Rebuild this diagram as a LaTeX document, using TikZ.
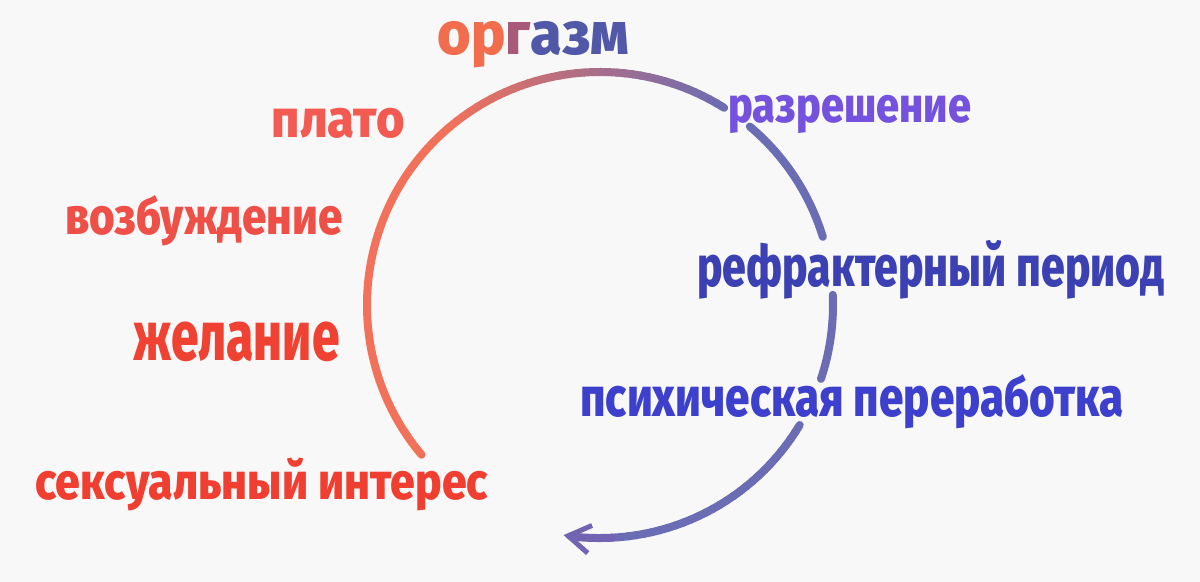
\documentclass[tikz,border=0pt]{standalone}
\usepackage{fontspec}
\usepackage{xcolor}
\usepackage{tikz}
\usetikzlibrary{arrows.meta}
\setmainfont{Fira Sans}[BoldFont={Fira Sans ExtraBold}]
\definecolor{paper}{HTML}{F8F8F8}
\definecolor{hot}{HTML}{F2715A}
\definecolor{cool}{HTML}{6A6CB4}
\definecolor{deep}{HTML}{5A5EC0}
\definecolor{tip}{HTML}{8868A8}
\definecolor{red1}{HTML}{F03E30}
\definecolor{red2}{HTML}{F04232}
\definecolor{red3}{HTML}{EE5048}
\definecolor{red4}{HTML}{F25A52}
\definecolor{orgA}{HTML}{F26D4E}
\definecolor{orgB}{HTML}{A85A7A}
\definecolor{orgC}{HTML}{5158A8}
\definecolor{violet}{HTML}{7552DE}
\definecolor{navy}{HTML}{3B40B2}
\definecolor{indigo}{HTML}{3C40CC}

\begin{document}
\begin{tikzpicture}[x=0.5pt, y=0.5pt,
    arcline/.style={line width=4pt, line cap=round},
    lbl/.style 2 args={inner sep=0pt,
      font=\fontsize{#1}{#1}\selectfont\bfseries\addfontfeatures{FakeStretch=#2}}]
  \useasboundingbox (0,0) rectangle (1200,582);
  \fill[paper] (0,0) rectangle (1200,582);
  \coordinate (O) at (600,277);

  % warm side of the cycle
  \draw[arcline, hot] (O) ++(220:233) arc[start angle=220, end angle=130, radius=233];
  \foreach \a in {130,128,...,60} {
    \pgfmathsetmacro\p{(\a-58)/72*100}
    \draw[arcline, draw=hot!\p!cool] (O) ++(\a:233) arc[start angle=\a, end angle=\a-2.2, radius=233];
  }

  % cool side, broken by the labels
  \draw[arcline, cool] (O) ++(50:233) arc[start angle=50, end angle=17, radius=233];
  \draw[arcline, cool] (O) ++(2.5:233) arc[start angle=2.5, end angle=-18.5, radius=233];
  \foreach \a in {-31,-33,...,-85} {
    \pgfmathsetmacro\p{(\a+31)/-56*100}
    \draw[arcline, draw=deep!\p!cool] (O) ++(\a:233) arc[start angle=\a, end angle=\a-2.2, radius=233];
  }
  \draw[arcline, draw=tip!55!deep, -{Straight Barb[length=11pt, width=14pt, line width=2.5pt]}]
    (O) ++(-87:233) arc[start angle=-87, end angle=-99, radius=233];

  % stages
  \node[lbl={25.6}{0.87}, red1, anchor=base west] (interest) at (35,82) {сексуальный интерес};
  \node[lbl={35}{0.71}, red2, anchor=base east] (desire) at (340,221) {желание};
  \node[lbl={25.6}{0.86}, red3, anchor=base east] (arousal) at (343,347) {возбуждение};
  \node[lbl={26.6}{0.92}, red4, anchor=base east] (plateau) at (405,444) {плато};
  \node[lbl={30}{0.96}, anchor=base west] (orgasm) at (437,527)
    {{\color{orgA}ор}{\color{orgB}г}{\color{orgC}азм}};
  \node[lbl={24.7}{0.84}, violet, anchor=base west] (resolution) at (728,459) {разрешение};
  \node[lbl={28.5}{0.75}, navy, anchor=base west] (refractory) at (697,295) {рефрактерный период};
  \node[lbl={27.5}{0.80}, indigo, anchor=base west] (processing) at (580,165) {психическая переработка};
\end{tikzpicture}
\end{document}
